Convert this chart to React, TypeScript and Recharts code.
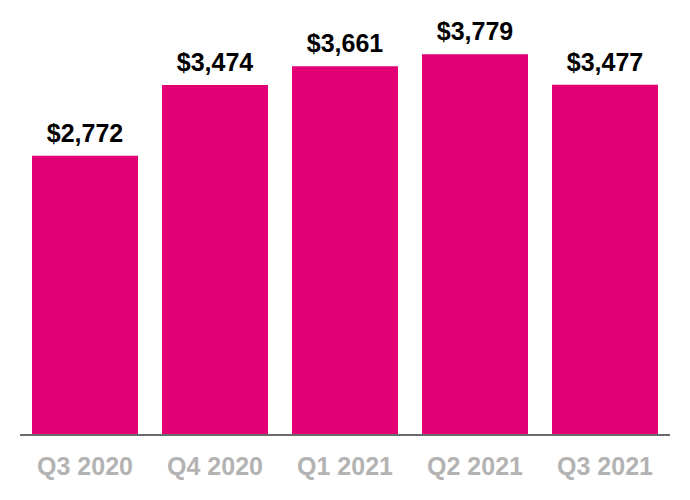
import { BarChart, Bar, XAxis, YAxis, LabelList } from 'recharts'

const quarters = ['Q3 2020', 'Q4 2020', 'Q1 2021', 'Q2 2021', 'Q3 2021']
const values = [2772, 3474, 3661, 3779, 3477]

const data = quarters.map((q, i) => ({ quarter: q, value: values[i] }))

const fmt = (v: any) => `$${Number(v).toLocaleString('en-US')}`

export default function App() {
  return (
    <div style={{ position: 'absolute', left: 0, top: 0, background: '#fff' }}>
      <BarChart
        width={690}
        height={500}
        data={data}
        margin={{ top: 32, right: 20, bottom: 0, left: 20 }}
        barCategoryGap={12}
        style={{ fontFamily: '"Liberation Sans", Arial, sans-serif' }}
      >
        <XAxis
          dataKey="quarter"
          height={65}
          tickLine={false}
          tickMargin={16}
          axisLine={{ stroke: '#6b6b6b', strokeWidth: 2 }}
          tick={{ fontSize: 25, fontWeight: 700, fill: '#b3b3b3' }}
        />
        <YAxis hide domain={[0, 4000]} />
        <Bar dataKey="value" fill="#e20074" isAnimationActive={false}>
          <LabelList
            dataKey="value"
            position="top"
            offset={14}
            formatter={fmt}
            style={{ fontSize: 25, fontWeight: 700, fill: '#000' }}
          />
        </Bar>
      </BarChart>
    </div>
  )
}
